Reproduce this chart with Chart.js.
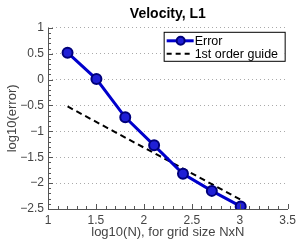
<!DOCTYPE html>
<html>
<head>
<meta charset="utf-8">
<script src="https://cdn.jsdelivr.net/npm/chart.js@4"></script>
<style>
  html, body { margin: 0; padding: 0; background: #fff; }
  #wrap { width: 300px; height: 243px; }
</style>
</head>
<body>
<div id="wrap"><canvas id="chart" width="300" height="243"></canvas></div>
<script>
// log10(N) for N = 16 .. 1024
const gridX = [1.204, 1.505, 1.806, 2.107, 2.408, 2.709, 3.010];
const errorY = [0.52, 0.01, -0.73, -1.27, -1.82, -2.15, -2.45];
const guideX = [1.204, 3.010];
const guideY = [-0.52, -2.32];
const xTicks = [1, 1.5, 2, 2.5, 3, 3.5];
const yTicks = [1, 0.5, 0, -0.5, -1, -1.5, -2, -2.5];

const FONT = '"Liberation Sans", Arial, sans-serif';
const minus = v => String(v).replace('-', '\u2212');

// left axis line plus inward major/minor ticks on left and bottom axes
const innerTicks = {
  id: 'innerTicks',
  afterDraw(chart) {
    const { ctx, chartArea: a, scales: { x, y } } = chart;
    ctx.save();
    ctx.strokeStyle = '#555';
    ctx.lineWidth = 1;
    ctx.beginPath();
    ctx.moveTo(Math.round(a.left) + 0.5, a.top);
    ctx.lineTo(Math.round(a.left) + 0.5, a.bottom);
    for (let i = 0; i <= 25; i++) {
      const v = 1 + i * 0.1;
      const px = Math.round(x.getPixelForValue(v)) + 0.5;
      const len = i % 5 === 0 ? 5 : 3;
      ctx.moveTo(px, a.bottom);
      ctx.lineTo(px, a.bottom - len);
    }
    for (let i = 0; i <= 35; i++) {
      const v = -2.5 + i * 0.1;
      const py = Math.round(y.getPixelForValue(v)) + 0.5;
      const len = i % 5 === 0 ? 5 : 3;
      ctx.moveTo(a.left, py);
      ctx.lineTo(a.left + len, py);
    }
    ctx.stroke();
    ctx.restore();
  }
};

// boxed legend in the upper right of the plot
const boxLegend = {
  id: 'boxLegend',
  afterDraw(chart) {
    const { ctx, chartArea: a } = chart;
    const x0 = a.right - 124, y0 = a.top + 4, w = 121, h = 29;
    ctx.save();
    ctx.fillStyle = '#fff';
    ctx.fillRect(x0, y0, w, h);
    ctx.strokeStyle = '#000';
    ctx.lineWidth = 1;
    ctx.strokeRect(x0 + 0.5, y0 + 0.5, w, h);
    ctx.font = '12.5px ' + FONT;
    ctx.fillStyle = '#000';
    ctx.textBaseline = 'middle';
    chart.data.datasets.forEach((ds, i) => {
      const cy = y0 + 9 + i * 13;
      ctx.beginPath();
      ctx.strokeStyle = ds.borderColor;
      ctx.lineWidth = ds.borderWidth;
      ctx.setLineDash(ds.borderDash ? [5, 4] : []);
      ctx.moveTo(x0 + 3, cy);
      ctx.lineTo(x0 + 30, cy);
      ctx.stroke();
      ctx.setLineDash([]);
      if (ds.pointRadius) {
        ctx.beginPath();
        ctx.arc(x0 + 17, cy, ds.pointRadius - 1, 0, Math.PI * 2);
        ctx.fillStyle = ds.pointBackgroundColor;
        ctx.fill();
        ctx.lineWidth = ds.pointBorderWidth;
        ctx.strokeStyle = ds.pointBorderColor;
        ctx.stroke();
      }
      ctx.fillStyle = '#000';
      ctx.fillText(ds.label, x0 + 31, cy + 1);
    });
    ctx.restore();
  }
};

new Chart(document.getElementById('chart'), {
  type: 'line',
  data: {
    datasets: [{
      label: 'Error',
      data: gridX.map((v, i) => ({ x: v, y: errorY[i] })),
      borderColor: '#0000cc',
      borderWidth: 3,
      pointRadius: 5,
      pointBackgroundColor: '#1f1fd6',
      pointBorderColor: '#00007a',
      pointBorderWidth: 2,
      tension: 0
    }, {
      label: '1st order guide',
      data: guideX.map((v, i) => ({ x: v, y: guideY[i] })),
      borderColor: '#000',
      borderWidth: 2,
      borderDash: [6, 4],
      pointRadius: 0,
      tension: 0
    }]
  },
  options: {
    responsive: false,
    animation: false,
    layout: { padding: { left: 0, right: 10, top: 0, bottom: 0 } },
    plugins: {
      legend: { display: false },
      tooltip: { enabled: false },
      title: {
        display: true,
        text: 'Velocity, L1',
        fullSize: false,
        color: '#000',
        font: { family: FONT, size: 14, weight: 'bold', lineHeight: 1.2 },
        padding: { top: 6, bottom: 5 }
      }
    },
    scales: {
      x: {
        type: 'linear',
        min: 1, max: 3.5,
        afterBuildTicks: s => { s.ticks = xTicks.map(v => ({ value: v })); },
        afterFit: s => { s.height = 34; },
        grid: { display: false, drawTicks: false },
        border: { display: true, color: '#555', width: 1 },
        ticks: {
          color: '#444',
          padding: 4,
          font: { family: FONT, size: 12 },
          callback: v => minus(v)
        },
        title: {
          display: true,
          text: 'log10(N), for grid size NxN',
          color: '#444',
          font: { family: FONT, size: 13 },
          padding: { top: 0, bottom: 3 }
        }
      },
      y: {
        type: 'linear',
        min: -2.5, max: 1,
        afterBuildTicks: s => { s.ticks = yTicks.map(v => ({ value: v })); },
        afterFit: s => { s.width = 48; },
        grid: {
          drawTicks: false,
          color: ctx => ctx.tick && ctx.tick.value === -2.5 ? 'rgba(0,0,0,0)' : '#aaa',
          lineWidth: 1
        },
        border: { display: false, dash: [1, 3] },
        ticks: {
          color: '#444',
          padding: 4,
          font: { family: FONT, size: 12 },
          callback: v => minus(v)
        },
        title: {
          display: true,
          text: 'log10(error)',
          color: '#444',
          font: { family: FONT, size: 13 },
          padding: { top: 5, bottom: 0 }
        }
      }
    }
  },
  plugins: [innerTicks, boxLegend]
});
</script>
</body>
</html>
